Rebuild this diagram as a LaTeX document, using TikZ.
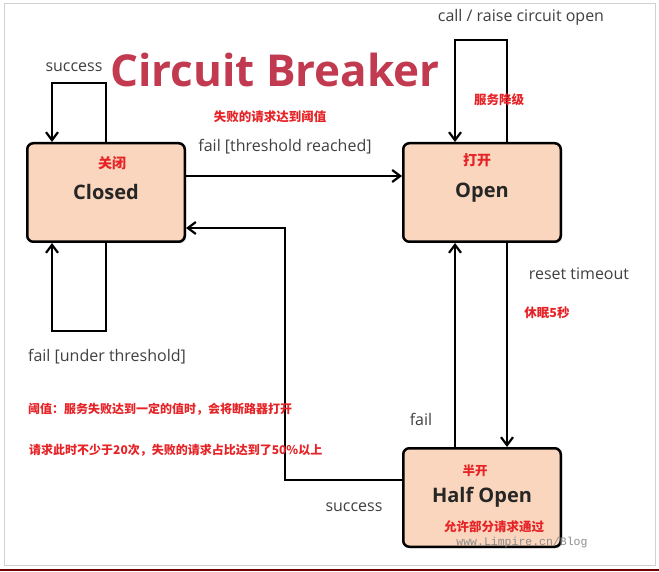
\documentclass[tikz,border=0pt]{standalone}
\usepackage{fontspec}
\setmainfont{Open Sans}
\newfontfamily\cjk{Noto Sans CJK SC}
\newfontfamily\wmfont{Liberation Mono}
\usetikzlibrary{arrows.meta,positioning,shadows}
\definecolor{peach}{RGB}{249,214,189}
\definecolor{titlered}{RGB}{193,58,79}
\definecolor{notered}{RGB}{230,36,40}
\definecolor{labelgray}{RGB}{64,64,64}
\tikzset{
  state/.style={draw, line width=2.5pt, rounded corners=6pt, fill=peach,
    minimum width=157.5pt, minimum height=98.5pt, text=black!85,
    font=\bfseries\fontsize{20}{24}\selectfont,
    drop shadow={opacity=0.25, shadow xshift=1.5pt, shadow yshift=-1.5pt}},
  lbl/.style={text=labelgray, inner sep=0pt, font=\fontsize{16}{19}\selectfont},
  cn/.style={text=notered, inner sep=0pt, font=\cjk\bfseries\fontsize{12.5}{15}\selectfont},
  link/.style={->, line width=2.2pt}
}

\begin{document}
\begin{tikzpicture}[x=1pt, y=-1pt, >={Straight Barb[length=8pt,width=12pt]}]
        \useasboundingbox (0,0) rectangle (659,572);
        \draw[black!18, line width=1pt] (4,4) rectangle (655,565);
        \draw[red!45!black, line width=1.5pt] (0,570) -- (659,570);

        % States
        \node[state] (closed) at (106,192.5) {\raisebox{-2pt}{Closed}};
        \node[state] (open) at (482,192.5) {\raisebox{-2pt}{Open}};
        \node[state] (half) at (482,497.5) {\raisebox{-2pt}{Half Open}};
        \node[text=titlered, inner sep=0pt, font=\bfseries\fontsize{44}{50}\selectfont] (title) at (275,70) {Circuit Breaker};

        % Loop corners
        \coordinate (cs1) at (106,83);
        \coordinate (cs2) at (52,83);
        \coordinate (cf1) at (106,331);
        \coordinate (cf2) at (52,331);
        \coordinate (co1) at (507,40);
        \coordinate (co2) at (455,40);
        \coordinate (hs) at (285,228);

        % Transitions
        \draw[link] (cs1 |- closed.north) -- (cs1) -- (cs2) -- (cs2 |- closed.north);
        \draw[link] (cf1 |- closed.south) -- (cf1) -- (cf2) -- (cf2 |- closed.south);
        \draw[link] ([yshift=16.5pt]closed.east) -- ([yshift=16.5pt]open.west);
        \draw[link] (co1 |- open.north) -- (co1) -- (co2) -- (co2 |- open.north);
        \draw[link] (co1 |- open.south) -- (co1 |- half.north);
        \draw[link] (co2 |- half.north) -- (co2 |- open.south);
        \draw[link] ([yshift=17.5pt]half.west) -| (hs) -- (hs -| closed.east);

        % Labels
        \node[lbl] (succ1) at (74,67) {success};
        \node[lbl] (failunder) at (107,357) {fail [under threshold]};
        \node[lbl] (failreach) at (285,147) {fail [threshold reached]};
        \node[lbl] (callopen) at (521,17) {call / raise circuit open};
        \node[lbl] (reset) at (579,274) {reset timeout};
        \node[lbl] (failhalf) at (421,419) {fail};
        \node[lbl] (succ2) at (354,507) {success};

        % Notes
        \node[cn] (threshcn) at (270,117) {失败的请求达到阈值};
        \node[cn] (fallback) at (499,100) {服务降级};
        \node[cn, font=\cjk\bfseries\fontsize{14}{16}\selectfont] (closedcn) at (112,163) {关闭};
        \node[cn, font=\cjk\bfseries\fontsize{14}{16}\selectfont] (opencn) at (477,160) {打开};
        \node[cn] (sleepcn) at (547,313) {休眠5秒};
        \node[cn] (halfcn) at (475,471) {半开};
        \node[cn] (passcn) at (494,527) {允许部分请求通过};
        \node[cn, anchor=west, font=\cjk\bfseries\fontsize{12}{15}\selectfont] (note1) at (28,409) {阈值：服务失败达到一定的值时，会将断路器打开};
        \node[cn, anchor=west, font=\cjk\bfseries\fontsize{12}{15}\selectfont] (note2) at (29,450) {请求此时不少于20次，失败的请求占比达到了50\%以上};
        \node[text=black!45, inner sep=0pt, font=\wmfont\fontsize{11.5}{13}\selectfont] (mark) at (522,543) {www.Limpire.cn/Blog};
    \end{tikzpicture}
\end{document}
